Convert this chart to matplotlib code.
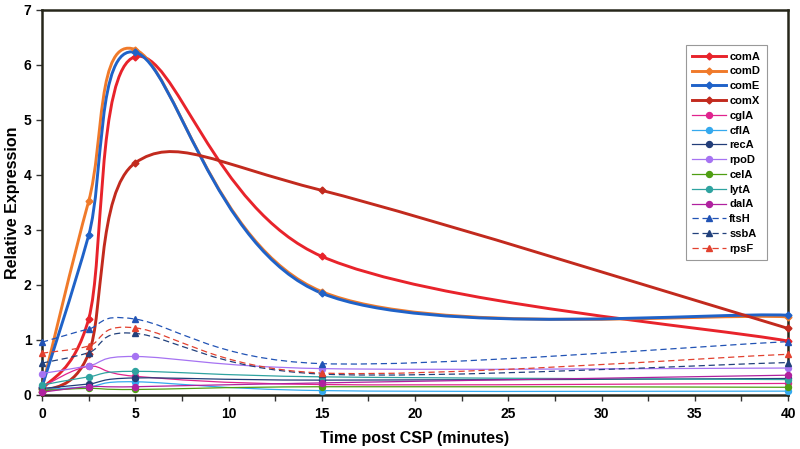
import numpy as np
import matplotlib.pyplot as plt
from matplotlib.path import Path
from matplotlib.patches import PathPatch
from matplotlib.lines import Line2D

plt.rcParams['font.family'] = ['Liberation Sans', 'DejaVu Sans']

#######################################################
# data (minutes after CSP)
#######################################################

time = [0, 2.5, 5, 15, 40]

comA = [0.10, 1.38, 6.15, 2.52, 0.98]
comD = [0.12, 3.52, 6.28, 1.88, 1.42]
comE = [0.15, 2.90, 6.23, 1.85, 1.45]
comX = [0.05, 0.75, 4.22, 3.72, 1.21]
cglA = [0.15, 0.52, 0.34, 0.19, 0.21]
cflA = [0.10, 0.15, 0.24, 0.08, 0.07]
recA = [0.12, 0.20, 0.31, 0.27, 0.30]
rpoD = [0.39, 0.53, 0.70, 0.48, 0.49]
celA = [0.08, 0.12, 0.10, 0.15, 0.14]
lytA = [0.18, 0.33, 0.43, 0.33, 0.28]
dalA = [0.05, 0.15, 0.15, 0.22, 0.36]
ftsH = [0.96, 1.20, 1.38, 0.57, 0.97]
ssbA = [0.58, 0.77, 1.12, 0.38, 0.59]
rpsF = [0.76, 0.89, 1.22, 0.40, 0.74]

names = ["comA", "comD", "comE", "comX", "cglA", "cflA", "recA",
         "rpoD", "celA", "lytA", "dalA", "ftsH", "ssbA", "rpsF"]
series = [comA, comD, comE, comX, cglA, cflA, recA,
          rpoD, celA, lytA, dalA, ftsH, ssbA, rpsF]

colors = ["#e8232b", "#f07a2a", "#1f62c8", "#c22a1e", "#e0238e", "#35a9ee",
          "#223d78", "#a673f2", "#4f9e12", "#2fa3a0", "#b0219f",
          "#2153b5", "#22417c", "#e2412f"]
markers = ["D", "D", "D", "D", "o", "o", "o", "o", "o", "o", "o",
           "^", "^", "^"]


def smooth_path(x, y):
    # excel style smoothed line: cubic bezier through every point
    pts = np.column_stack([x, y]).astype(float)
    n = len(pts)
    verts = [pts[0]]
    codes = [Path.MOVETO]
    for i in range(n - 1):
        p0 = pts[max(i - 1, 0)]
        p1 = pts[i]
        p2 = pts[i + 1]
        p3 = pts[min(i + 2, n - 1)]
        verts += [p1 + (p2 - p0) / 6, p2 - (p3 - p1) / 6, p2]
        codes += [Path.CURVE4] * 3
    return Path(verts, codes)


fig = plt.figure(figsize=(8, 4.49), dpi=100)
ax = fig.add_axes([0.0525, 0.1203, 0.9325, 0.8575])

handles = []
for name, vals, c, m in zip(names, series, colors, markers):
    thick = name.startswith("com")
    dashed = m == "^"
    lw = 2.1 if thick else 0.9
    ls = (0, (5, 3)) if dashed else "-"
    ax.add_patch(PathPatch(smooth_path(time, vals), facecolor="none",
                           edgecolor=c, lw=lw, linestyle=ls, zorder=3))
    ms = 3.5 if m == "D" else 4.3
    ax.plot(time, vals, linestyle="none", marker=m, color=c, ms=ms,
            zorder=4, clip_on=False)
    handles.append(Line2D([], [], color=c, lw=lw, linestyle=ls,
                          marker=m, ms=ms))

ax.set_xlim(0, 40)
ax.set_ylim(0, 7)
ax.set_xticks(np.arange(0, 41, 5))
ax.set_xticks(np.arange(0, 41, 2.5), minor=True)
ax.set_yticks(np.arange(0, 8, 1))

for s in ax.spines.values():
    s.set_linewidth(1.8)
    s.set_color("#26261a")

ax.tick_params(which="both", direction="out", length=4, width=1,
               labelsize=10, color="#333333")
ax.tick_params(axis="x", pad=5)
for lab in ax.get_xticklabels() + ax.get_yticklabels():
    lab.set_fontweight("bold")

ax.set_xlabel("Time post CSP (minutes)", fontsize=11.5, fontweight="bold",
              labelpad=7)
ax.set_ylabel("Relative Expression", fontsize=11.5, fontweight="bold",
              labelpad=3)

leg = ax.legend(handles, names, loc="upper left",
                bbox_to_anchor=(0.863, 0.909), borderaxespad=0,
                fontsize=8, handlelength=3.0, labelspacing=0.43,
                handletextpad=0.3, fancybox=False, framealpha=1,
                edgecolor="#999999", borderpad=0.6)
leg.get_frame().set_linewidth(0.8)
for t in leg.get_texts():
    t.set_fontweight("bold")

fig.savefig("out.png", dpi=100)
